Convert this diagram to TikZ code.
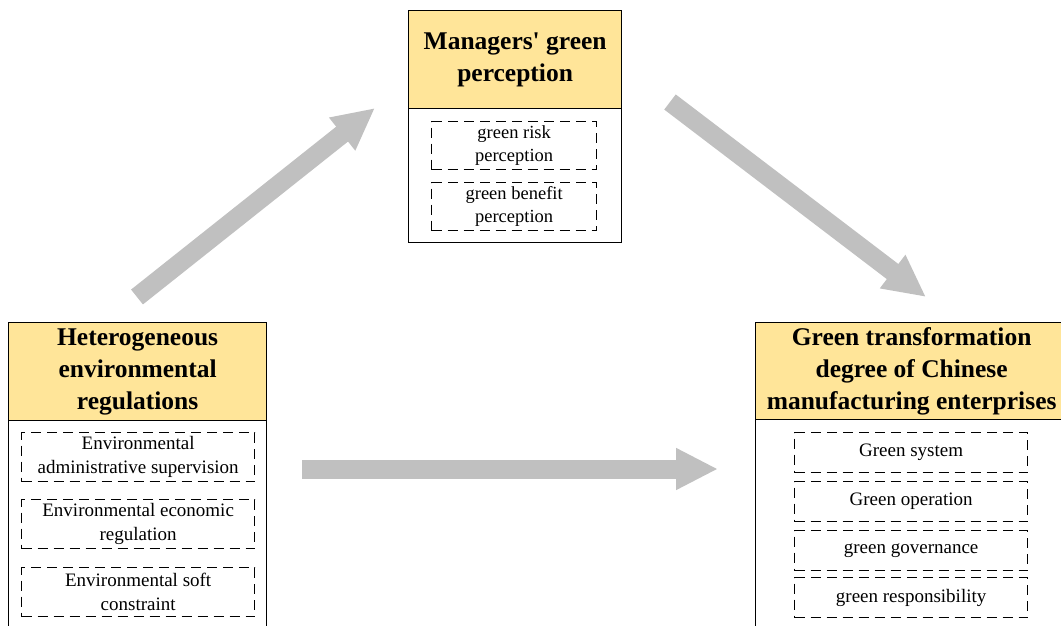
\documentclass[tikz,border=0pt]{standalone}
\usepackage{fontspec}
\setmainfont{Liberation Serif}[Ligatures=TeXOff]
\usetikzlibrary{arrows.meta}
\definecolor{hdr}{RGB}{255,229,153}
\definecolor{arr}{RGB}{192,192,192}
\begin{document}
\begin{tikzpicture}[x=1pt,y=-1pt,
  hdrbox/.style={draw, line width=1.3pt, fill=hdr, anchor=north west, inner sep=0pt, align=center,
    font=\bfseries\fontsize{25.5}{32}\selectfont},
  bodybox/.style={draw, line width=1.3pt, fill=white, anchor=north west, inner sep=0pt},
  subbox/.style={draw, line width=1.3pt, dash pattern=on 10pt off 6pt, anchor=north west, inner sep=0pt,
    align=center, font=\fontsize{19}{24}\selectfont},
  bigarrow/.style={draw=arr, line width=19pt, -{Triangle[length=42pt,width=39pt]}}]
\useasboundingbox (0,0) rectangle (1061,626);
\clip (0,0) rectangle (1061,626);
% top box
\node[bodybox, minimum width=213pt, minimum height=134pt] (tb) at (408,108) {};
\node[hdrbox, minimum width=213pt, minimum height=98pt] (th) at (408,10) {Managers' green\\perception};
\node[subbox, minimum width=165pt, minimum height=48pt, font=\fontsize{18.5}{23}\selectfont] (t1) at (431,121) {green risk\\perception};
\node[subbox, minimum width=165pt, minimum height=48pt, font=\fontsize{18.5}{23}\selectfont] (t2) at (431,182) {green benefit\\perception};
% left box
\node[bodybox, minimum width=258pt, minimum height=220pt] (lb) at (8,420) {};
\node[hdrbox, minimum width=258pt, minimum height=98pt] (lh) at (8,322) {Heterogeneous\\environmental\\regulations};
\node[subbox, minimum width=233pt, minimum height=49pt] (l1) at (21,432) {Environmental\\administrative supervision};
\node[subbox, minimum width=233pt, minimum height=49pt] (l2) at (21,499) {Environmental economic\\regulation};
\node[subbox, minimum width=233pt, minimum height=49pt] (l3) at (21,567) {Environmental soft\\constraint};
% right box
\node[bodybox, minimum width=312pt, minimum height=220pt] (rb) at (755,419) {};
\node[hdrbox, minimum width=312pt, minimum height=97pt] (rh) at (755,322) {Green transformation\\degree of Chinese\\manufacturing enterprises};
\node[subbox, minimum width=233pt, minimum height=40pt] (r1) at (794,432) {Green system};
\node[subbox, minimum width=233pt, minimum height=40pt] (r2) at (794,481) {Green operation};
\node[subbox, minimum width=233pt, minimum height=40pt] (r3) at (794,530) {green governance};
\node[subbox, minimum width=233pt, minimum height=40pt] (r4) at (794,577) {green responsibility};
% arrows
\coordinate (a1s) at (137,297);
\coordinate (a1e) at (375,108);
\coordinate (a2s) at (670,102);
\coordinate (a2e) at (926,297);
\coordinate (a3s) at (302,469);
\coordinate (a3e) at (718,469);
\draw[bigarrow] (a1s) -- (a1e);
\draw[bigarrow] (a2s) -- (a2e);
\draw[bigarrow] (a3s) -- (a3e);
\end{tikzpicture}
\end{document}
